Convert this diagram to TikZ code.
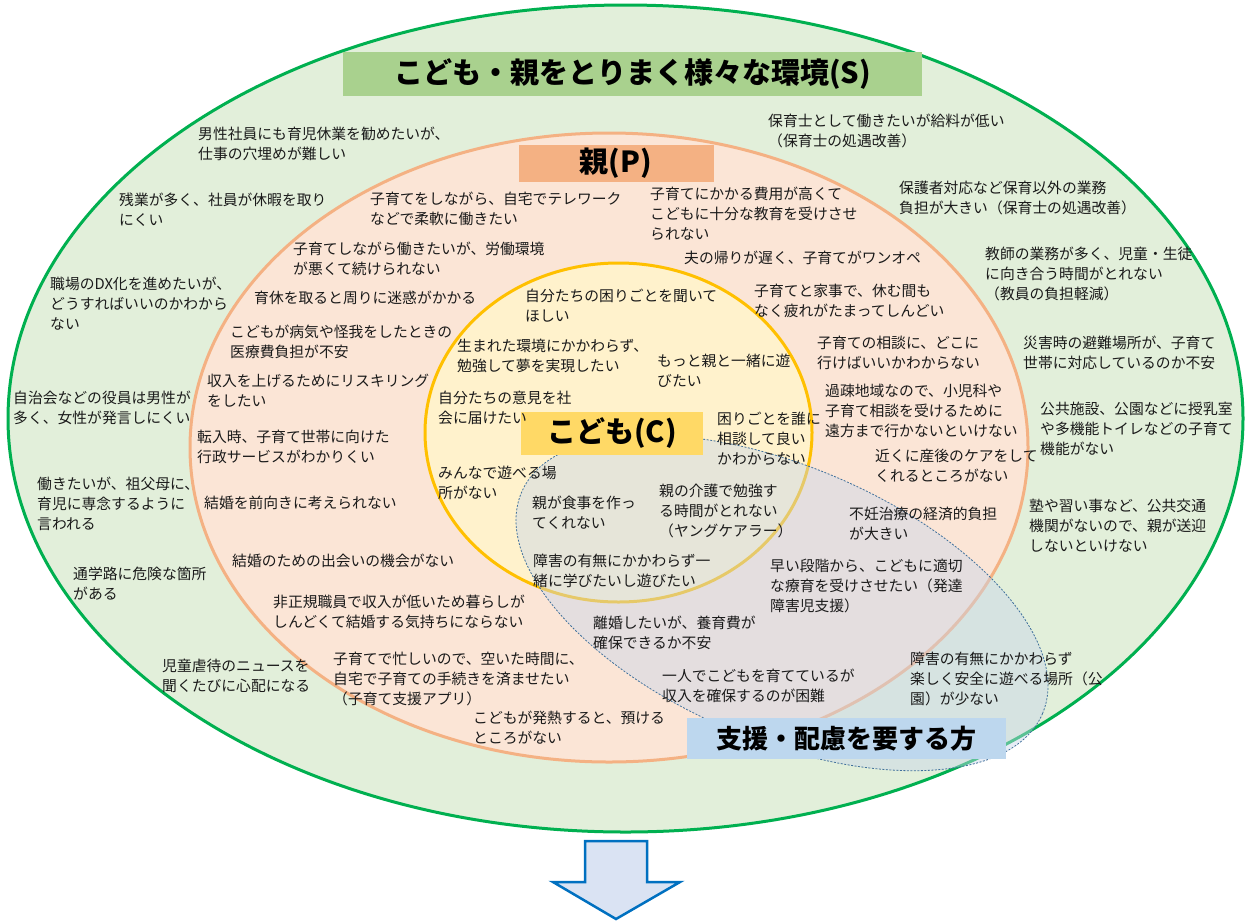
\documentclass[tikz,border=0pt]{standalone}
\usepackage{fontspec}
\setmainfont{Noto Sans CJK JP}
\definecolor{envfill}{HTML}{E2EFDA}
\definecolor{envline}{HTML}{00B050}
\definecolor{envbox}{HTML}{A9D18E}
\definecolor{parfill}{HTML}{FBE5D6}
\definecolor{parline}{HTML}{F4B183}
\definecolor{parbox}{HTML}{F4B183}
\definecolor{kidfill}{HTML}{FFF2CC}
\definecolor{kidline}{HTML}{FFC000}
\definecolor{kidbox}{HTML}{FFD966}
\definecolor{supfill}{HTML}{C9D6EA}
\definecolor{supline}{HTML}{41719C}
\definecolor{supbox}{HTML}{BDD7EE}
\definecolor{arrfill}{HTML}{DAE3F3}
\definecolor{arrline}{HTML}{0070C0}
\definecolor{ink}{HTML}{1A1A1A}
\begin{document}
\begin{tikzpicture}[x=1pt,y=-1pt,
  txt/.style={anchor=base west, inner sep=0pt, align=left, text=ink,
    font=\fontsize{14.8}{20}\selectfont},
  ttlbox/.style={inner sep=0pt, text=black, font=\bfseries\fontsize{29}{32}\selectfont},
  ring/.style={line width=3pt}]
\useasboundingbox (0,0) rectangle (1247,922);
\fill[white] (0,0) rectangle (1247,922);
% ellipses
\filldraw[ring, draw=envline, fill=envfill] (625.5,418.5) ellipse [x radius=617.5pt, y radius=413.5pt];
\filldraw[ring, draw=parline, fill=parfill] (609,447.5) ellipse [x radius=419pt, y radius=314.5pt];
\filldraw[ring, draw=kidline, fill=kidfill] (618.5,432.5) ellipse [x radius=193.5pt, y radius=169.5pt];
\filldraw[draw=supline, line width=0.8pt, dash pattern=on 2pt off 1.5pt, fill=supfill, fill opacity=0.45]
  [shift={(782,603)}, rotate=-23] (0,0) ellipse [x radius=283pt, y radius=137pt];
% title boxes
\node[ttlbox, fill=envbox, minimum width=579pt, minimum height=44pt] (envT) at (632.5,74) {こども・親をとりまく様々な環境(S)};
\node[ttlbox, fill=parbox, minimum width=195pt, minimum height=37pt] (parT) at (616,163) {親(P)};
\node[ttlbox, fill=kidbox, minimum width=182pt, minimum height=43pt] (kidT) at (612,433.5) {こども(C)};
\node[ttlbox, fill=supbox, minimum width=319pt, minimum height=41pt, font=\bfseries\fontsize{26}{30}\selectfont] (supT) at (846.5,738.5) {支援・配慮を要する方};
% environment texts (anchor = baseline of last line)
\node[txt] (s1) at (198,159) {男性社員にも育児休業を勧めたいが、\\仕事の穴埋めが難しい};
\node[txt] (s2) at (119,225.5) {残業が多く、社員が休暇を取り\\にくい};
\node[txt] (s3) at (50,329) {職場のDX化を進めたいが、\\どうすればいいのかわから\\ない};
\node[txt] (s4) at (13,423) {自治会などの役員は男性が\\多く、女性が発言しにくい};
\node[txt] (s5) at (37,529) {働きたいが、祖父母に、\\育児に専念するように\\言われる};
\node[txt] (s6) at (73,599) {通学路に危険な箇所\\がある};
\node[txt] (s7) at (162,691) {児童虐待のニュースを\\聞くたびに心配になる};
\node[txt] (s8) at (768,146) {保育士として働きたいが給料が低い\\（保育士の処遇改善）};
\node[txt] (s9) at (899,213.5) {保護者対応など保育以外の業務\\負担が大きい（保育士の処遇改善）};
\node[txt] (s10) at (985,299) {教師の業務が多く、児童・生徒\\に向き合う時間がとれない\\（教員の負担軽減）};
\node[txt] (s11) at (1023,368) {災害時の避難場所が、子育て\\世帯に対応しているのか不安};
\node[txt] (s12) at (1040,454) {公共施設、公園などに授乳室\\や多機能トイレなどの子育て\\機能がない};
\node[txt] (s13) at (1029,551) {塾や習い事など、公共交通\\機関がないので、親が送迎\\しないといけない};
\node[txt] (s14) at (910,704) {障害の有無にかかわらず\\楽しく安全に遊べる場所（公\\園）が少ない};
% parent texts
\node[txt] (p1) at (370,224) {子育てをしながら、自宅でテレワーク\\などで柔軟に働きたい};
\node[txt] (p2) at (293,274) {子育てしながら働きたいが、労働環境\\が悪くて続けられない};
\node[txt] (p3) at (254,303) {育休を取ると周りに迷惑がかかる};
\node[txt] (p4) at (230,357) {こどもが病気や怪我をしたときの\\医療費負担が不安};
\node[txt] (p5) at (207,406) {収入を上げるためにリスキリング\\をしたい};
\node[txt] (p6) at (197,462.5) {転入時、子育て世帯に向けた\\行政サービスがわかりくい};
\node[txt] (p7) at (204,508) {結婚を前向きに考えられない};
\node[txt] (p8) at (232,566) {結婚のための出会いの機会がない};
\node[txt] (p9) at (273,627) {非正規職員で収入が低いため暮らしが\\しんどくて結婚する気持ちにならない};
\node[txt] (p10) at (333,704) {子育てで忙しいので、空いた時間に、\\自宅で子育ての手続きを済ませたい\\（子育て支援アプリ）};
\node[txt] (p11) at (473,743) {こどもが発熱すると、預ける\\ところがない};
\node[txt] (p12) at (650,239) {子育てにかかる費用が高くて\\こどもに十分な教育を受けさせ\\られない};
\node[txt] (p13) at (684,263) {夫の帰りが遅く、子育てがワンオペ};
\node[txt] (p14) at (754,316) {子育てと家事で、休む間も\\なく疲れがたまってしんどい};
\node[txt] (p15) at (817,368) {子育ての相談に、どこに\\行けばいいかわからない};
\node[txt] (p16) at (825,436) {過疎地域なので、小児科や\\子育て相談を受けるために\\遠方まで行かないといけない};
\node[txt] (p17) at (875,481) {近くに産後のケアをして\\くれるところがない};
\node[txt] (p18) at (849,539) {不妊治療の経済的負担\\が大きい};
\node[txt] (p19) at (770,611) {早い段階から、こどもに適切\\な療育を受けさせたい（発達\\障害児支援）};
\node[txt] (p20) at (593,648.5) {離婚したいが、養育費が\\確保できるか不安};
\node[txt] (p21) at (662,701) {一人でこどもを育てているが\\収入を確保するのが困難};
% child texts
\node[txt] (c1) at (525,321.5) {自分たちの困りごとを聞いて\\ほしい};
\node[txt] (c2) at (457,371) {生まれた環境にかかわらず、\\勉強して夢を実現したい};
\node[txt] (c3) at (657,386) {もっと親と一緒に遊\\びたい};
\node[txt] (c4) at (438,423) {自分たちの意見を社\\会に届けたい};
\node[txt] (c5) at (717,464) {困りごとを誰に\\相談して良い\\かわからない};
\node[txt] (c6) at (438,498) {みんなで遊べる場\\所がない};
\node[txt] (c7) at (532,528) {親が食事を作っ\\てくれない};
\node[txt] (c8) at (659,536) {親の介護で勉強す\\る時間がとれない\\（ヤングケアラー）};
\node[txt] (c9) at (533,586) {障害の有無にかかわらず一\\緒に学びたいし遊びたい};
% arrow
\filldraw[draw=arrline, fill=arrfill, line width=2.5pt, line join=miter]
  (585,841) -- (647,841) -- (647,882) -- (680,882) -- (616,919) -- (553,882) -- (585,882) -- cycle;
\end{tikzpicture}
\end{document}
